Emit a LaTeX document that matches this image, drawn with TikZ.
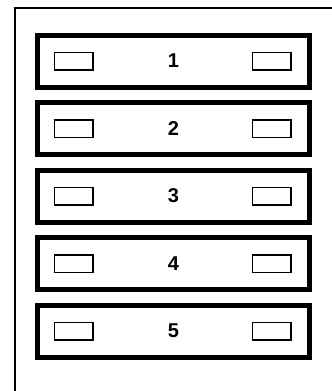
\documentclass[tikz,border=0pt]{standalone}
\usepackage{fontspec}
\setsansfont{Liberation Sans}
\usetikzlibrary{positioning}

\tikzset{
  shelf/.style={draw, line width=5pt, minimum width=272pt, minimum height=52pt,
    inner sep=0pt, font=\sffamily\bfseries\fontsize{20}{20}\selectfont},
  slot/.style={draw, line width=1.5pt, minimum width=38.5pt, minimum height=17.5pt,
    inner sep=0pt}
}

\begin{document}
\begin{tikzpicture}[x=1pt,y=-1pt]
                \useasboundingbox (0,0) rectangle (332,391);

                % outer frame, open to the right and bottom
                \coordinate (FB) at (15,391);
                \coordinate (FC) at (15,8);
                \coordinate (FR) at (332,8);
                \draw[line width=1.6pt] (FB) -- (FC) -- (FR);

                \def\pitch{67.5}

                \foreach \i in {1,...,5} {
                    \pgfmathsetmacro{\yc}{61+(\i-1)*\pitch}
                    \node[shelf] (bar\i) at (173.5,\yc) {\i};
                    \node[slot, right=18.5pt of bar\i.west] (slotL\i) {};
                    \node[slot, left=20.5pt of bar\i.east] (slotR\i) {};
                }
            \end{tikzpicture}
\end{document}
